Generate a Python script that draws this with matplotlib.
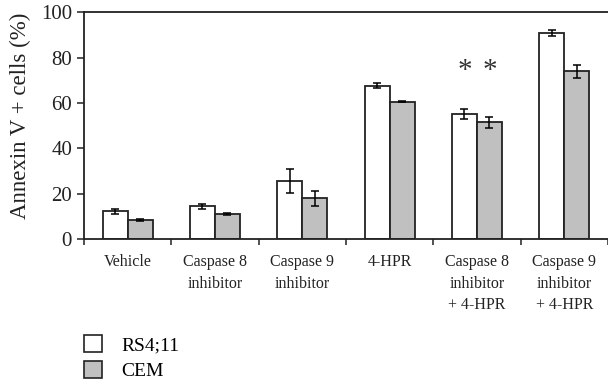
import matplotlib
matplotlib.use('Agg')
import matplotlib.pyplot as plt
from matplotlib.patches import Patch
import numpy as np

plt.rcParams['font.family'] = ['Liberation Serif', 'DejaVu Serif']

# treatment groups and annexin V+ percentages
groups = ['Vehicle', 'Caspase 8\ninhibitor', 'Caspase 9\ninhibitor', '4-HPR',
          'Caspase 8\ninhibitor\n+ 4-HPR', 'Caspase 9\ninhibitor\n+ 4-HPR']
rs411 = [12.3, 14.5, 25.7, 67.7, 55.1, 91.0]
rs411_err = [1.2, 1.1, 5.4, 1.2, 2.3, 1.3]
cem = [8.5, 11.0, 18.0, 60.6, 51.5, 74.0]
cem_err = [0.4, 0.5, 3.2, 0.3, 2.5, 2.9]
signif = [False, False, False, False, True, False]

fig = plt.figure(figsize=(6.08, 3.87), dpi=100)
ax = fig.add_axes([0.138, 0.382, 0.862, 0.586])

x = np.arange(len(groups)) + 0.5
w = 0.286
edge = '#222222'
ax.bar(x - w/2, rs411, w, color='white', edgecolor=edge, linewidth=1.3,
       yerr=rs411_err, error_kw=dict(ecolor='black', elinewidth=1.1, capsize=3, capthick=1.1))
ax.bar(x + w/2, cem, w, color='#c0c0c0', edgecolor=edge, linewidth=1.3,
       yerr=cem_err, error_kw=dict(ecolor='black', elinewidth=1.1, capsize=3, capthick=1.1))

# significance marks over both bars of a group
for i, s in enumerate(signif):
    if s:
        for xx in (x[i] - w/2, x[i] + w/2):
            ax.text(xx, 74, '*', ha='center', va='center', fontsize=21,
                    color='#333333', fontweight='light')

ax.set_xlim(0, len(groups))
ax.set_ylim(0, 100)
ax.set_yticks([0, 20, 40, 60, 80, 100])
ax.tick_params(axis='y', labelsize=15, length=5, width=1.1, direction='out', colors='#222222')
ax.set_xticks(np.arange(len(groups) + 1))
ax.set_xticklabels([])
ax.tick_params(axis='x', which='major', length=4, width=1.1, direction='out', colors='#222222')
ax.set_xticks(x, minor=True)
ax.set_xticklabels(groups, minor=True, fontsize=11.5, linespacing=1.45, va='top')
ax.tick_params(axis='x', which='minor', length=0, pad=11, colors='#222222')

ax.set_ylabel('Annexin V + cells (%)', fontsize=16.5, color='#222222')
ax.yaxis.set_label_coords(-0.1, 0.545)
ax.spines['right'].set_visible(False)
for sp in ['left', 'top', 'bottom']:
    ax.spines[sp].set_linewidth(1.3)
    ax.spines[sp].set_color('#222222')

handles = [Patch(facecolor='white', edgecolor=edge, linewidth=1.2, label='RS4;11'),
           Patch(facecolor='#c0c0c0', edgecolor=edge, linewidth=1.2, label='CEM')]
fig.legend(handles=handles, loc='upper left', bbox_to_anchor=(0.125, 0.155),
           frameon=False, fontsize=14, handlelength=0.95, handleheight=1.0,
           handletextpad=1.0, labelspacing=0.35, borderaxespad=0)

fig.savefig('out.png', dpi=100)
